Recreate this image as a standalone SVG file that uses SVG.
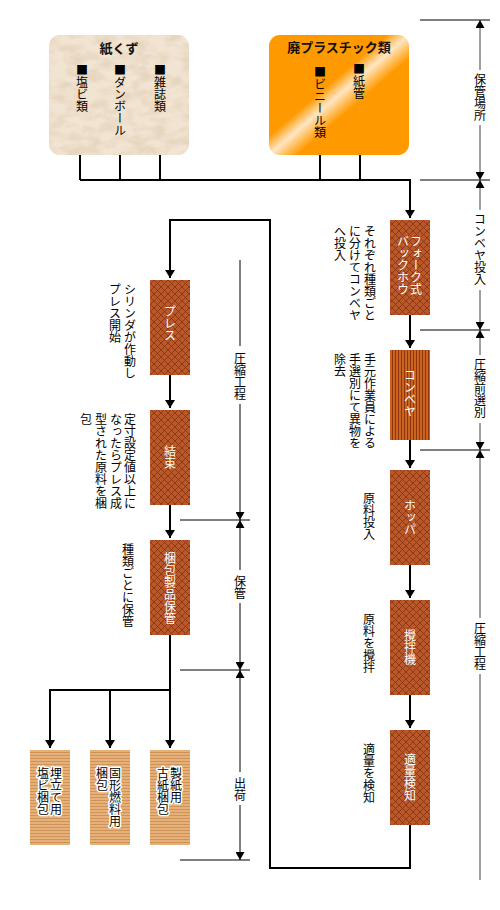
<svg xmlns="http://www.w3.org/2000/svg" width="500" height="910" viewBox="0 0 500 910">
<defs>
<style>
.t{font-family:"Noto Sans CJK JP","Noto Sans",sans-serif;font-size:12px;writing-mode:vertical-rl;fill:#000}
.w{fill:#fff}
.g{paint-order:stroke;stroke:#fff;stroke-width:3px;stroke-linejoin:round}
.h{font-family:"Noto Sans CJK JP","Noto Sans",sans-serif;font-size:13px;font-weight:bold;text-anchor:middle;fill:#111}
.c{fill:none;stroke:#000;stroke-width:2}
.s{fill:none;stroke:#444;stroke-width:1}
.k{fill:none;stroke:#000;stroke-width:1}
</style>
<pattern id="hatch" width="7" height="7" patternUnits="userSpaceOnUse">
<rect width="7" height="7" fill="#b9592b"/>
<path d="M0,0L7,7M7,0L0,7" stroke="#8a3410" stroke-width="0.9"/>
</pattern>
<pattern id="vstripe" width="3" height="3" patternUnits="userSpaceOnUse">
<rect width="3" height="3" fill="#c8641f"/>
<rect x="2" width="1" height="3" fill="#93360c"/>
</pattern>
<pattern id="hstripe" width="3" height="3" patternUnits="userSpaceOnUse">
<rect width="3" height="3" fill="#e6b07a"/>
<rect y="2" width="3" height="1" fill="#cf9358"/>
</pattern>
<linearGradient id="shine" x1="0" y1="0" x2="1" y2="1">
<stop offset="0" stop-color="#ff9900"/>
<stop offset="0.42" stop-color="#ff9900"/>
<stop offset="0.5" stop-color="#ffe6c4"/>
<stop offset="0.56" stop-color="#ffb84a"/>
<stop offset="0.6" stop-color="#ff9900"/>
<stop offset="1" stop-color="#ff9900"/>
</linearGradient>
<filter id="paper" x="0" y="0" width="100%" height="100%">
<feTurbulence type="fractalNoise" baseFrequency="0.06 0.11" numOctaves="3" seed="4"/>
<feColorMatrix type="matrix" values="0 0 0 0 0.80  0 0 0 0 0.67  0 0 0 0 0.52  2.8 0 0 0 -1.05"/>
<feComposite in2="SourceGraphic" operator="in"/>
</filter>
<marker id="arr" viewBox="0 0 8 10" refX="8" refY="5" markerWidth="8" markerHeight="10" markerUnits="userSpaceOnUse" orient="auto">
<path d="M0,0L8,5L0,10z" fill="#000"/>
</marker>
<marker id="sa" viewBox="0 0 8 9" refX="8" refY="4.5" markerWidth="8" markerHeight="9" markerUnits="userSpaceOnUse" orient="auto-start-reverse">
<path d="M0,0L8,4.5L0,9z" fill="#000"/>
</marker>
</defs>
<rect width="500" height="910" fill="#fff"/>

<g id="connectors">
<path class="c" d="M80,155V180M120,155V180M160,155V180M320,155V180M360,155V180"/>
<path class="c" d="M80,180H410V218" marker-end="url(#arr)"/>
<path class="c" d="M410,315V348" marker-end="url(#arr)"/>
<path class="c" d="M410,440V468" marker-end="url(#arr)"/>
<path class="c" d="M410,565V598" marker-end="url(#arr)"/>
<path class="c" d="M410,695V728" marker-end="url(#arr)"/>
<path class="c" d="M410,825V868H270V220H170V278" marker-end="url(#arr)"/>
<path class="c" d="M170,375V408" marker-end="url(#arr)"/>
<path class="c" d="M170,505V538" marker-end="url(#arr)"/>
<path class="c" d="M170,635V748" marker-end="url(#arr)"/>
<path class="c" d="M170,690H50V748" marker-end="url(#arr)"/>
<path class="c" d="M110,690V748" marker-end="url(#arr)"/>
</g>

<g id="scale-right">
<path class="k" d="M420,20H490M420,180H490M420,330H490M420,450H490"/>
<path class="s" d="M480,70V20" marker-end="url(#sa)"/>
<path class="s" d="M480,125V180" marker-end="url(#sa)"/>
<path class="s" d="M480,210V180" marker-end="url(#sa)"/>
<path class="s" d="M480,290V330" marker-end="url(#sa)"/>
<path class="s" d="M480,355V330" marker-end="url(#sa)"/>
<path class="s" d="M480,423V450" marker-end="url(#sa)"/>
<path class="s" d="M480,618V450" marker-end="url(#sa)"/>
<path class="s" d="M480,674V880"/>
<text class="t" x="480" y="73">保管場所</text>
<text class="t" x="480" y="213">コンベヤ投入</text>
<text class="t" x="480" y="358">圧縮前選別</text>
<text class="t" x="480" y="622">圧縮工程</text>
</g>

<g id="scale-left">
<path class="k" d="M180,520H250M180,670H250M180,860H250"/>
<path class="k" d="M240,260V346"/>
<path class="k" d="M240,404V520" marker-end="url(#sa)"/>
<path class="k" d="M240,570V520" marker-end="url(#sa)"/>
<path class="k" d="M240,603V670" marker-end="url(#sa)"/>
<path class="k" d="M240,772V670" marker-end="url(#sa)"/>
<path class="k" d="M240,805V860" marker-end="url(#sa)"/>
<text class="t" x="240" y="352">圧縮工程</text>
<text class="t" x="240" y="575">保管</text>
<text class="t" x="240" y="777">出荷</text>
</g>

<g id="paper-waste">
<rect x="49" y="35" width="140" height="120" rx="11" fill="#f1e4d2"/>
<rect x="49" y="35" width="140" height="120" rx="11" fill="#000" filter="url(#paper)"/>
<text class="h" x="119" y="53">紙くず</text>
<text class="t" x="82" y="64">■塩ビ類</text>
<text class="t" x="120" y="64">■ダンボール</text>
<text class="t" x="160" y="64">■雑誌類</text>
</g>

<g id="plastic-waste">
<rect x="269" y="35" width="140" height="120" rx="11" fill="url(#shine)"/>
<text class="h" x="339" y="52">廃プラスチック類</text>
<text class="t" x="320" y="66">■ビニール類</text>
<text class="t" x="359" y="63">■紙管</text>
</g>

<g id="forklift">
<rect x="390" y="220" width="40" height="95" fill="url(#hatch)"/>
<text class="t w" x="416" y="235">フォーク式</text>
<text class="t w" x="403" y="235">バックホウ</text>
<text class="t" x="370" y="225">それぞれ種類ごと</text>
<text class="t" x="355" y="225">に分けてコンベヤ</text>
<text class="t" x="340" y="225">へ投入</text>
</g>

<g id="conveyor">
<rect x="390" y="350" width="40" height="90" fill="url(#vstripe)"/>
<text class="t w" x="410" y="369">コンベヤ</text>
<text class="t" x="370" y="353">手元作業員による</text>
<text class="t" x="355" y="353">手選別にて異物を</text>
<text class="t" x="340" y="353">除去</text>
</g>

<g id="hopper">
<rect x="390" y="470" width="40" height="95" fill="url(#hatch)"/>
<text class="t w" x="410" y="499">ホッパ</text>
<text class="t" x="369" y="492">原料投入</text>
</g>

<g id="mixer">
<rect x="390" y="600" width="40" height="95" fill="url(#hatch)"/>
<text class="t w" x="410" y="629">攪拌機</text>
<text class="t" x="369" y="613">原料を攪拌</text>
</g>

<g id="detector">
<rect x="390" y="730" width="40" height="95" fill="url(#hatch)"/>
<text class="t w" x="410" y="753">適量検知</text>
<text class="t" x="369" y="743">適量を検知</text>
</g>

<g id="press">
<rect x="150" y="280" width="40" height="95" fill="url(#hatch)"/>
<text class="t w" x="170" y="305">プレス</text>
<text class="t" x="130" y="283">シリンダが作動し</text>
<text class="t" x="115" y="283">プレス開始</text>
</g>

<g id="binding">
<rect x="150" y="410" width="40" height="95" fill="url(#hatch)"/>
<text class="t w" x="170" y="445">結束</text>
<text class="t" x="130" y="413">定寸設定値以上に</text>
<text class="t" x="116" y="413">なったらプレス成</text>
<text class="t" x="101" y="413">型された原料を梱</text>
<text class="t" x="86" y="413">包</text>
</g>

<g id="storage">
<rect x="150" y="540" width="40" height="95" fill="url(#hatch)"/>
<text class="t w" x="170" y="552">梱包製品保管</text>
<text class="t" x="128" y="543">種類ごとに保管</text>
</g>

<g id="landfill">
<rect x="30" y="750" width="40" height="95" fill="url(#hstripe)"/>
<text class="t g" x="56" y="767">埋立て用</text>
<text class="t g" x="43" y="767">塩ビ梱包</text>
</g>

<g id="fuel">
<rect x="90" y="750" width="40" height="95" fill="url(#hstripe)"/>
<text class="t g" x="115" y="767">固形燃料用</text>
<text class="t g" x="102" y="767">梱包</text>
</g>

<g id="papermaking">
<rect x="150" y="750" width="40" height="95" fill="url(#hstripe)"/>
<text class="t g" x="176" y="767">製紙用</text>
<text class="t g" x="163" y="767">古紙梱包</text>
</g>
</svg>
